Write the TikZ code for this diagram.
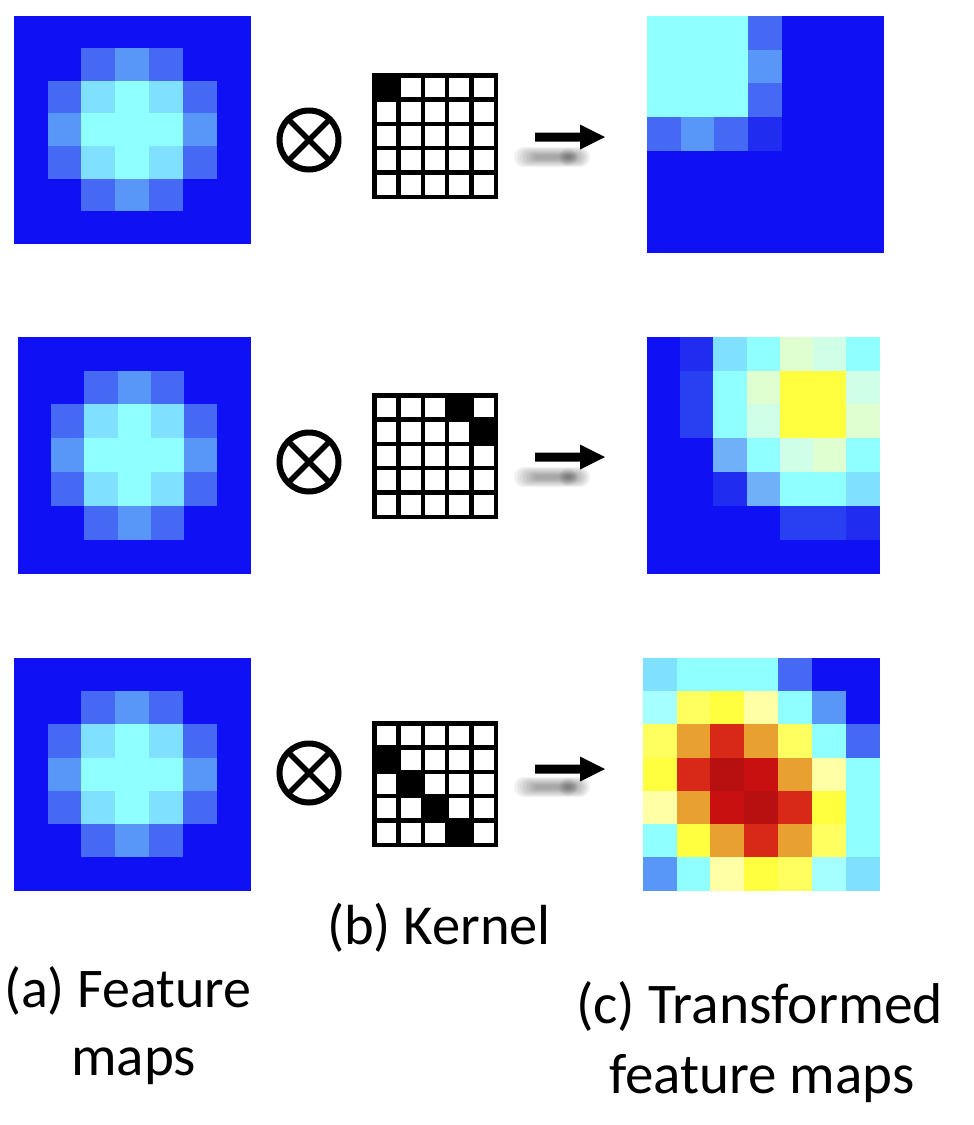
\documentclass[tikz,border=0pt]{standalone}
\usepackage{fontspec}
\setmainfont{Carlito}
\definecolor{hD}{RGB}{16,16,245}
\definecolor{hDa}{RGB}{32,44,240}
\definecolor{hDb}{RGB}{40,64,242}
\definecolor{hM}{RGB}{70,105,245}
\definecolor{hMb}{RGB}{88,150,247}
\definecolor{hB}{RGB}{112,176,248}
\definecolor{hCb}{RGB}{128,224,255}
\definecolor{hC}{RGB}{144,255,255}
\definecolor{hCc}{RGB}{165,255,255}
\definecolor{hPg}{RGB}{224,255,208}
\definecolor{hPc}{RGB}{208,255,232}
\definecolor{hY}{RGB}{255,255,64}
\definecolor{hYb}{RGB}{255,255,96}
\definecolor{hPy}{RGB}{255,255,165}
\definecolor{hO}{RGB}{232,160,48}
\definecolor{hR}{RGB}{216,40,24}
\definecolor{hRb}{RGB}{200,16,16}
\definecolor{hRc}{RGB}{184,16,16}
\newcommand{\heatmap}[5]{%
  \foreach \c [count=\i from 0] in {#5} {%
    \pgfmathtruncatemacro{\rr}{floor(\i/7)}%
    \pgfmathtruncatemacro{\cc}{\i-7*\rr}%
    \pgfmathsetmacro{\wx}{(#3-#1)/7}%
    \pgfmathsetmacro{\wy}{(#4-#2)/7}%
    \fill[\c] ({#1+\cc*\wx-0.3},{#2+\rr*\wy-0.3}) rectangle ({#1+(\cc+1)*\wx+0.3},{#2+(\rr+1)*\wy+0.3});
  }%
}
\newcommand{\kernelgrid}[3]{%
  \foreach \kc/\kr in {#3} {%
    \fill[black] ({#1+2.25+\kc*24.3},{#2+2.25+\kr*24.3}) rectangle ++(24.3,24.3);
  }%
  \foreach \k in {0,...,5} {%
    \draw[kline] ({#1+2.25+\k*24.3},{#2+0}) -- ({#1+2.25+\k*24.3},{#2+126});
    \draw[kline] ({#1+0},{#2+2.25+\k*24.3}) -- ({#1+126},{#2+2.25+\k*24.3});
  }%
}
\begin{document}
\begin{tikzpicture}[x=1pt,y=-1pt,
  kline/.style={line width=4.5pt},
  otimesnode/.style={circle,draw,line width=6pt,minimum size=59pt,inner sep=0pt,outer sep=0pt},
  crossline/.style={line width=5.5pt},
  lbl/.style={anchor=base west,inner sep=0pt}]
\useasboundingbox (0,0) rectangle (974,1125);
% feature maps (a)
\heatmap{14}{16}{251}{244}{hD,hD,hD,hD,hD,hD,hD,
 hD,hD,hM,hMb,hM,hD,hD,
 hD,hM,hCb,hC,hCb,hM,hD,
 hD,hMb,hC,hC,hC,hMb,hD,
 hD,hM,hCb,hC,hCb,hM,hD,
 hD,hD,hM,hMb,hM,hD,hD,
 hD,hD,hD,hD,hD,hD,hD}
\heatmap{18}{337}{251}{574}{hD,hD,hD,hD,hD,hD,hD,
 hD,hD,hM,hMb,hM,hD,hD,
 hD,hM,hCb,hC,hCb,hM,hD,
 hD,hMb,hC,hC,hC,hMb,hD,
 hD,hM,hCb,hC,hCb,hM,hD,
 hD,hD,hM,hMb,hM,hD,hD,
 hD,hD,hD,hD,hD,hD,hD}
\heatmap{14}{658}{251}{891}{hD,hD,hD,hD,hD,hD,hD,
 hD,hD,hM,hMb,hM,hD,hD,
 hD,hM,hCb,hC,hCb,hM,hD,
 hD,hMb,hC,hC,hC,hMb,hD,
 hD,hM,hCb,hC,hCb,hM,hD,
 hD,hD,hM,hMb,hM,hD,hD,
 hD,hD,hD,hD,hD,hD,hD}
% transformed maps (c)
\heatmap{647}{16}{884}{253}{hC,hC,hC,hM,hD,hD,hD,
 hC,hC,hC,hMb,hD,hD,hD,
 hC,hC,hC,hM,hD,hD,hD,
 hM,hMb,hM,hDa,hD,hD,hD,
 hD,hD,hD,hD,hD,hD,hD,
 hD,hD,hD,hD,hD,hD,hD,
 hD,hD,hD,hD,hD,hD,hD}
\heatmap{647}{337}{880}{574}{hD,hDa,hCb,hC,hPg,hPc,hC,
 hD,hDb,hC,hPg,hY,hY,hPc,
 hD,hDb,hC,hPc,hY,hY,hPg,
 hD,hD,hB,hC,hPc,hPg,hC,
 hD,hD,hDa,hB,hC,hC,hCb,
 hD,hD,hD,hD,hDb,hDb,hDa,
 hD,hD,hD,hD,hD,hD,hD}
\heatmap{643}{658}{880}{891}{hCb,hC,hC,hC,hM,hD,hD,
 hCc,hYb,hY,hPy,hC,hMb,hD,
 hYb,hO,hR,hO,hYb,hC,hM,
 hY,hR,hRc,hRb,hO,hPy,hC,
 hPy,hO,hRb,hRc,hR,hY,hC,
 hC,hY,hO,hR,hO,hYb,hC,
 hMb,hC,hPy,hY,hYb,hCc,hCb}
% kernels (b)
\kernelgrid{372}{73}{0/0}
\kernelgrid{372}{393}{3/0,4/1}
\kernelgrid{372}{721}{0/1,1/2,2/3,3/4}
% otimes symbols
\foreach \n/\yy in {1/140,2/462,3/773} {
  \node[otimesnode] (ot\n) at (309,\yy) {};
  \draw[crossline] (ot\n.north west) -- (ot\n.south east);
  \draw[crossline] (ot\n.north east) -- (ot\n.south west);
}
% arrows with blurred shadow
\foreach \n/\ay/\sy in {1/137/157,2/457/477,3/769/787} {
  \foreach \k in {0,...,7} {
    \fill[black,opacity=0.05,rounded corners={10-1.1*\k}] ({514+3*\k},{\sy-10+1.1*\k}) rectangle ({590-2*\k},{\sy+10-1.1*\k});
  }
  \foreach \k in {0,...,4} {
    \fill[black,opacity=0.05] (568,\sy) circle ({9-1.6*\k});
  }
  \coordinate (as\n) at (535,\ay);
  \coordinate (ae\n) at (605,\ay);
  \fill[black] (as\n) ++(0,-4.5) -- ++(45,0) -- ++(0,-8) -- (ae\n) -- ++(-25,12.5) -- ++(0,-8) -- ++(-45,0) -- cycle;
}
% labels
\node[lbl,font=\fontsize{56}{60}\selectfont] (la) at (4,1007) {(a) Feature};
\node[lbl,font=\fontsize{57}{60}\selectfont] (lam) at (71,1075) {maps};
\node[lbl,font=\fontsize{56.5}{60}\selectfont] (lb) at (327,944) {(b) Kernel};
\node[lbl,font=\fontsize{57.5}{60}\selectfont] (lc) at (576,1023) {(c) Transformed};
\node[lbl,font=\fontsize{57}{60}\selectfont] (lcm) at (609,1093) {feature maps};
\end{tikzpicture}
\end{document}
